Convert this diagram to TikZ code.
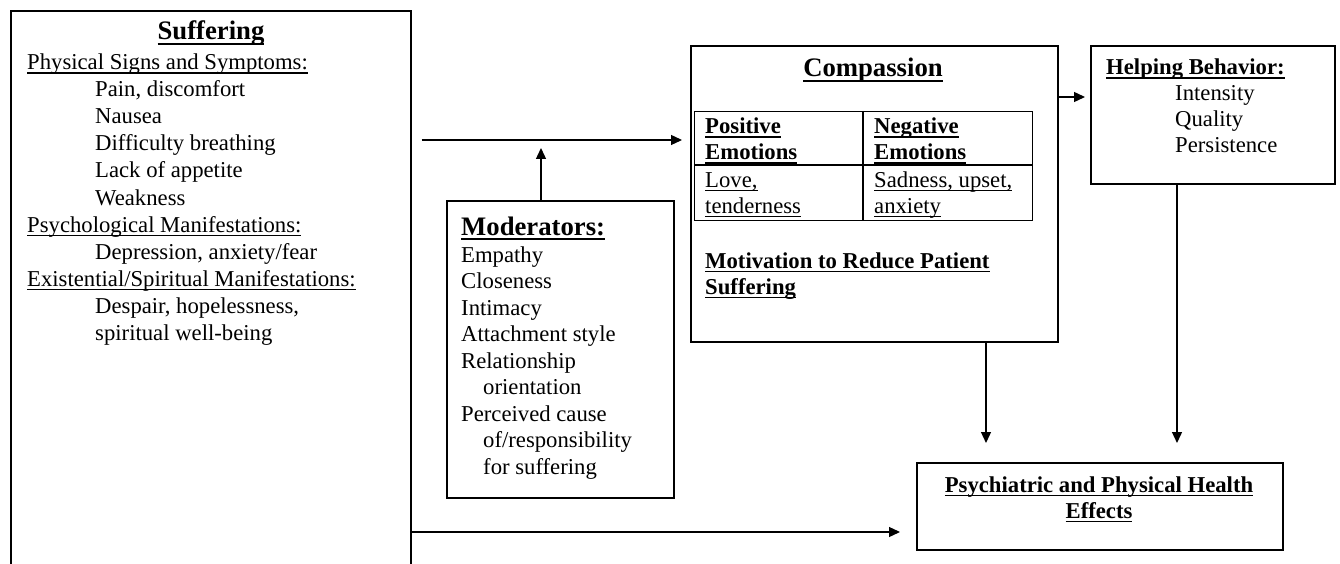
\documentclass[tikz,border=0pt]{standalone}
\usepackage{fontspec}
\setmainfont{Liberation Serif}
\usetikzlibrary{arrows.meta}
\newsavebox\ulbox
\newcommand\ulr[1]{\sbox\ulbox{#1}\rlap{\rule[-3.6pt]{\wd\ulbox}{1.1pt}}\usebox\ulbox}
\newcommand\ulb[1]{\sbox\ulbox{#1}\rlap{\rule[-4.6pt]{\wd\ulbox}{1.8pt}}\usebox\ulbox}
\tikzset{
  box/.style={draw, line width=1.6pt, inner sep=0pt, anchor=north west},
  thin/.style={line width=1.2pt},
  arr/.style={-{Triangle[length=11pt,width=10pt]}, line width=1.3pt},
  txt/.style={anchor=base west, inner sep=0pt, font=\fontsize{22.7}{26.5}\selectfont},
  bt/.style={anchor=base west, inner sep=0pt, font=\fontsize{22.7}{26.5}\selectfont\bfseries},
  ttl/.style={anchor=base, inner sep=0pt, font=\fontsize{26.7}{31}\selectfont\bfseries},
}
\begin{document}
\begin{tikzpicture}[x=1pt,y=-1pt]
\clip (0,0) rectangle (1340,564);
% boxes
\node[box, minimum width=400pt, minimum height=620pt] (suff) at (10,10) {};
\node[box, minimum width=227pt, minimum height=297pt] (mod) at (446,200) {};
\node[box, minimum width=367pt, minimum height=296pt] (comp) at (690,45) {};
\node[box, minimum width=244pt, minimum height=138pt] (help) at (1090,45) {};
\node[box, minimum width=366pt, minimum height=87pt] (health) at (916,462) {};
\node[draw, thin, inner sep=0pt, anchor=north west, minimum width=338pt, minimum height=109pt] (tab) at (694,111) {};
\coordinate (rowy) at (0,165);
\coordinate (colx) at (863,0);
\draw[thin] (tab.west |- rowy) -- (tab.east |- rowy);
\draw[thin] (tab.north -| colx) -- (tab.south -| colx);
% helper coordinates
\coordinate (j) at (541,140);
\coordinate (k) at (1070,97);
\coordinate (xa) at (986,0);
\coordinate (xb) at (1177,0);
\coordinate (yb) at (0,532);
% connectors
\draw[arr, shorten <=10pt, shorten >=8pt] (suff.east |- j) -- (comp.west |- j);
\draw[arr, shorten >=8pt] (mod.north -| j) -- (j);
\draw[arr, shorten >=5pt] (comp.east |- k) -- (help.west |- k);
\draw[arr, shorten >=19pt] (comp.south -| xa) -- (health.north -| xa);
\draw[arr, shorten >=19pt] (help.south -| xb) -- (health.north -| xb);
\draw[arr, shorten >=16pt] (suff.east |- yb) -- (health.west |- yb);
% Suffering texts
\node[ttl] (st) at (211,40) {\ulb{Suffering}};
\foreach \n/\x/\y/\t in {
  s1/27/70/{\ulr{Physical Signs and Symptoms:}},
  s2/95/97/{Pain, discomfort},
  s3/95/124/{Nausea},
  s4/95/151/{Difficulty breathing},
  s5/95/178/{Lack of appetite},
  s6/95/205/{Weakness},
  s7/27/232/{\ulr{Psychological Manifestations:}},
  s8/95/259/{Depression, anxiety/fear},
  s9/27/286/{\ulr{Existential/Spiritual Manifestations:}},
  s10/95/313/{Despair, hopelessness,},
  s11/95/340/{spiritual well-being}}
  {\node[txt] (\n) at (\x,\y) {\t};}
% Moderators
\node[ttl, anchor=base west] (mt) at (461,235) {\ulb{Moderators:}};
\foreach \n/\x/\y/\t in {
  m1/461/262/{Empathy},
  m2/461/288.5/{Closeness},
  m3/461/315/{Intimacy},
  m4/461/341.5/{Attachment style},
  m5/461/368/{Relationship},
  m6/483/394.5/{orientation},
  m7/461/421/{Perceived cause},
  m8/483/447.5/{of/responsibility},
  m9/483/474/{for suffering}}
  {\node[txt] (\n) at (\x,\y) {\t};}
% Compassion
\node[ttl] (ct) at (873,77) {\ulb{Compassion}};
\node[bt] (p1) at (705,134) {\ulr{Positive}};
\node[bt] (p2) at (705,160) {\ulr{Emotions}};
\node[bt] (n1) at (874,134) {\ulr{Negative}};
\node[bt] (n2) at (874,160) {\ulr{Emotions}};
\node[txt] (l1) at (705,187) {\ulr{Love,}};
\node[txt] (l2) at (705,213) {\ulr{tenderness}};
\node[txt] (q1) at (874,187) {\ulr{Sadness, upset,}};
\node[txt] (q2) at (874,213) {\ulr{anxiety}};
\node[bt] (mo1) at (705,268) {\ulr{Motivation to Reduce Patient}};
\node[bt] (mo2) at (705,294) {\ulr{Suffering}};
% Helping
\node[bt] (h0) at (1106,75) {\ulr{Helping Behavior:}};
\node[txt] (h1) at (1175,101) {Intensity};
\node[txt] (h2) at (1175,127) {Quality};
\node[txt] (h3) at (1175,153) {Persistence};
% Health
\node[bt, anchor=base] (e1) at (1099,492) {\ulr{Psychiatric and Physical Health}};
\node[bt, anchor=base] (e2) at (1099,518) {\ulr{Effects}};
\end{tikzpicture}
\end{document}
